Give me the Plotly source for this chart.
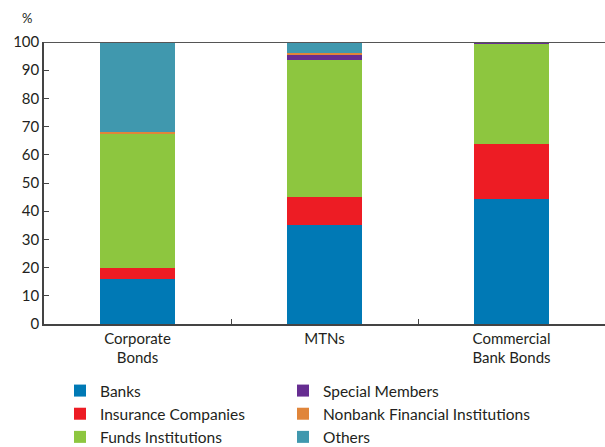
import plotly.graph_objects as go

categories = ["Corporate<br>Bonds", "MTNs", "Commercial<br>Bank Bonds"]
banks = [16.0, 35.0, 44.2]
insurance = [3.8, 9.9, 19.7]
funds = [47.9, 48.7, 35.4]
special = [0.0, 1.8, 0.4]
nonbank = [0.5, 0.7, 0.1]
others = [31.8, 3.9, 0.2]

series = [
    ("Banks", banks, "#0079b5", "legend"),
    ("Insurance Companies", insurance, "#ed1c24", "legend"),
    ("Funds Institutions", funds, "#8dc63f", "legend"),
    ("Special Members", special, "#662d91", "legend2"),
    ("Nonbank Financial Institutions", nonbank, "#e0853a", "legend2"),
    ("Others", others, "#4098ae", "legend2"),
]

FONT = "Lato"
fig = go.Figure()
for name, vals, color, leg in series:
    fig.add_trace(go.Bar(
        x=categories, y=vals, name=name, marker_color=color,
        marker_line_width=0, width=0.4, legend=leg,
    ))

leg_common = dict(
    orientation="v", xanchor="left", xref="container",
    yanchor="top", yref="container", y=1 - 374 / 447,
    traceorder="normal", font=dict(size=15.5, color="#231f20"),
    tracegroupgap=0, itemsizing="constant", bgcolor="rgba(0,0,0,0)",
)

fig.update_layout(
    barmode="stack",
    width=605, height=447,
    margin=dict(l=44, r=0, t=42, b=123, autoexpand=False),
    paper_bgcolor="white", plot_bgcolor="white",
    font=dict(family=FONT, size=15, color="#231f20"),
    showlegend=True,
    legend=dict(x=60 / 605, **leg_common),
    legend2=dict(x=283 / 605, **leg_common),
)
fig.update_xaxes(
    showline=True, linecolor="#444", linewidth=1.5,
    ticks="inside", tickson="boundaries", ticklen=5, tickcolor="#444",
    showgrid=False, tickfont=dict(size=15),
)
fig.update_yaxes(
    range=[0, 100], dtick=10, showline=True, linecolor="#444", linewidth=1.5,
    ticks="inside", ticklen=5, tickcolor="#444", showgrid=False,
    tickfont=dict(size=15), zeroline=False,
)
fig.add_shape(type="line", xref="paper", yref="y", x0=0, x1=1, y0=100, y1=100,
              line=dict(color="#555", width=2))
fig.add_annotation(text="%", xref="paper", yref="paper", x=-0.03, y=1.0,
                   yshift=14, showarrow=False, xanchor="center", yanchor="bottom",
                   font=dict(size=13, family=FONT))
fig.write_html("out.html", config={"displayModeBar": False},
               post_script="document.body.style.margin='0';document.body.style.overflow='hidden';")
